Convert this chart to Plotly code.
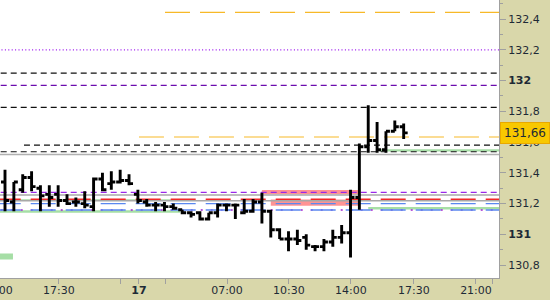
import plotly.graph_objects as go

# ---- OHLC data (30-min bars, bar index) ----
opens  = [131.34,131.21,131.29,131.37,131.30,131.26,131.26,131.22,131.21,131.20,
          131.18,131.36,131.33,131.34,131.35,131.26,131.21,131.19,131.19,131.18,
          131.16,131.14,131.14,131.10,131.14,131.19,131.19,131.14,131.15,131.21,
          131.15,131.03,130.97,130.97,130.98,130.92,130.92,130.95,130.98,131.01,
          131.24,131.57,131.61,131.55,131.67,131.70]
highs  = [131.42,131.34,131.39,131.41,131.32,131.32,131.32,131.26,131.24,131.28,
          131.37,131.40,131.41,131.42,131.39,131.29,131.23,131.21,131.21,131.20,
          131.16,131.15,131.15,131.14,131.20,131.20,131.20,131.23,131.23,131.27,
          131.16,131.04,131.02,131.03,131.00,130.93,130.97,131.03,131.06,131.29,
          131.59,131.84,131.73,131.67,131.74,131.72]
lows   = [131.15,131.15,131.27,131.28,131.15,131.18,131.18,131.19,131.18,131.17,
          131.15,131.28,131.29,131.33,131.32,131.20,131.18,131.15,131.15,131.16,
          131.13,131.11,131.09,131.09,131.11,131.15,131.10,131.13,131.14,131.07,
          130.98,130.97,130.89,130.93,130.90,130.89,130.89,130.92,130.94,130.85,
          131.16,131.53,131.53,131.53,131.67,131.62]
closes = [131.22,131.34,131.37,131.31,131.25,131.24,131.22,131.20,131.21,131.19,
          131.36,131.29,131.34,131.35,131.33,131.22,131.19,131.19,131.18,131.17,
          131.14,131.13,131.10,131.14,131.19,131.19,131.19,131.15,131.21,131.15,
          131.03,130.97,130.97,130.96,130.93,130.92,130.95,130.98,131.01,131.24,
          131.57,131.61,131.55,131.67,131.70,131.66]
bar_index = list(range(len(opens)))
last_price = 131.66

# ---- axis ticks ----
x_tick_pos    = [6.09, 13.09, 15.12, 18.06, 25.06, 32.05, 39.05, 46.16, 53.16, 54.97]
x_tick_labels = ["17:30", "", "<b>17</b>", "", "07:00", "10:30", "14:00", "17:30", "21:00", ""]
x_cut_label_pos = -0.95
x_cut_label = "14:00"
y_tick_vals   = [130.8, 131.0, 131.2, 131.4, 131.6, 131.8, 132.0, 132.2, 132.4]
y_tick_labels = ["130,8", "<b>131</b>", "131,2", "131,4", "131,6", "131,8", "<b>132</b>", "132,2", "132,4"]
y_minor_vals  = [130.9, 131.1, 131.3, 131.5, 131.7, 131.9, 132.1, 132.3, 132.5]

# ---- horizontal levels (price, start bar or None = whole width) ----
level_values = [132.444, 132.2, 132.049, 131.969, 131.826, 131.633, 131.58, 131.537,
                131.273, 131.255, 131.228, 131.219, 131.2, 131.158, 131.158]
level_starts = [18.06, None, None, None, None, 15.12, 2.14, None,
                None, None, None, None, None, None, None]
level_styles = [
    dict(color="#f7b928", dash="25px,10px", width=1.2),
    dict(color="#9a10f0", dash="1px,2.4px", width=1.2),
    dict(color="#111111", dash="6px,4px", width=1.2),
    dict(color="#6c0cae", dash="6px,4px", width=1.3),
    dict(color="#111111", dash="6px,4px", width=1.2),
    dict(color="#f7b928", dash="25px,10px", width=1.2),
    dict(color="#111111", dash="6px,4px", width=1.2),
    dict(color="#111111", dash="6px,4px", width=1.2),
    dict(color="#9a28e8", dash="6px,4px", width=1.3),
    dict(color="#a8a8a8", dash="solid", width=1.5),
    dict(color="#f02828", dash="25px,10px", width=1.6),
    dict(color="#a8a8a8", dash="solid", width=1.5),
    dict(color="#5a88f0", dash="25px,10px", width=1.4),
    dict(color="#a020d0", dash="2px,8px", width=1.4),
    dict(color="#5a88f0", dash="25px,10px", width=1.4),
]
solid_gray_level = 131.519

# green bands: (price low, price high, start bar, end bar)
green_lo    = [131.538, 131.218, 131.140, 131.162, 130.837]
green_hi    = [131.554, 131.228, 131.156, 131.178, 130.876]
green_start = [42.3, -5, -5, 41.0, -5]
green_end   = [60, 19.9, 19.8, 60, 0.9]

# red zones
red_lo    = [131.260, 131.186]
red_hi    = [131.288, 131.226]
red_start = [29.0, 30.0]
red_end   = [40.0, 40.0]

X_MIN, X_MAX = -0.564, 55.76
Y_MIN, Y_MAX = 130.716, 132.524

fig = go.Figure()
fig.add_trace(go.Ohlc(
    x=bar_index, open=opens, high=highs, low=lows, close=closes,
    increasing=dict(line=dict(color="#000000", width=2.9)),
    decreasing=dict(line=dict(color="#000000", width=2.9)),
    tickwidth=0.45, showlegend=False, hoverinfo="skip",
))

shapes = []
for lo, hi, s, e in zip(red_lo, red_hi, red_start, red_end):
    shapes.append(dict(type="rect", xref="x", yref="y", x0=s, x1=e, y0=lo, y1=hi,
                       fillcolor="#ff9494", line=dict(width=0), layer="below"))
for lo, hi, s, e in zip(green_lo, green_hi, green_start, green_end):
    shapes.append(dict(type="rect", xref="x", yref="y", x0=s, x1=e, y0=lo, y1=hi,
                       fillcolor="#a6dea6", line=dict(width=0), layer="below"))
shapes.append(dict(type="line", xref="x", yref="y", x0=-5, x1=60,
                   y0=solid_gray_level, y1=solid_gray_level,
                   line=dict(color="#b0b0b0", width=1.5), layer="below"))
for v, s, st in zip(level_values, level_starts, level_styles):
    x0 = -5 if s is None else s
    shapes.append(dict(type="line", xref="x", yref="y", x0=x0, x1=60, y0=v, y1=v,
                       line=st, layer="below"))

font = dict(family="DejaVu Sans", size=11, color="#1e2a36")
cut_paper_x = (x_cut_label_pos - X_MIN) / (X_MAX - X_MIN)

fig.update_layout(
    width=550, height=300,
    margin=dict(l=0, r=51, t=0, b=22),
    paper_bgcolor="#d9d7aa", plot_bgcolor="#ffffff",
    shapes=shapes, font=font, showlegend=False,
    xaxis=dict(range=[X_MIN, X_MAX], rangeslider=dict(visible=False),
               tickmode="array", tickvals=x_tick_pos, ticktext=x_tick_labels,
               ticks="outside", ticklen=5, tickcolor="#a0a0a0", tickwidth=1,
               ticklabelstandoff=-3,
               showgrid=False, zeroline=False, showline=True,
               linecolor="#a0a0a0", linewidth=1, tickfont=font),
    yaxis=dict(range=[Y_MIN, Y_MAX], side="right",
               tickmode="array", tickvals=y_tick_vals, ticktext=y_tick_labels,
               ticks="outside", ticklen=6, tickcolor="#a0a0a0", tickwidth=1,
               minor=dict(tickmode="array", tickvals=y_minor_vals, ticks="outside",
                          ticklen=3, tickcolor="#a0a0a0"),
               showgrid=False, zeroline=False, showline=True,
               linecolor="#a0a0a0", linewidth=1, tickfont=font),
    annotations=[
        dict(xref="paper", yref="y", x=1.0, y=last_price, xanchor="left", yanchor="middle",
             xshift=1, text="131,66", showarrow=False, bgcolor="#f8c800",
             bordercolor="#e8a800", borderwidth=1, borderpad=3, width=42,
             font=dict(family="DejaVu Sans", size=12, color="#1e2a36")),
        dict(xref="paper", yref="paper", x=cut_paper_x, y=0, xanchor="center",
             yanchor="top", yshift=-4, text=x_cut_label, showarrow=False, font=font),
    ],
)

fig.write_html("out.html", config=dict(displayModeBar=False))
